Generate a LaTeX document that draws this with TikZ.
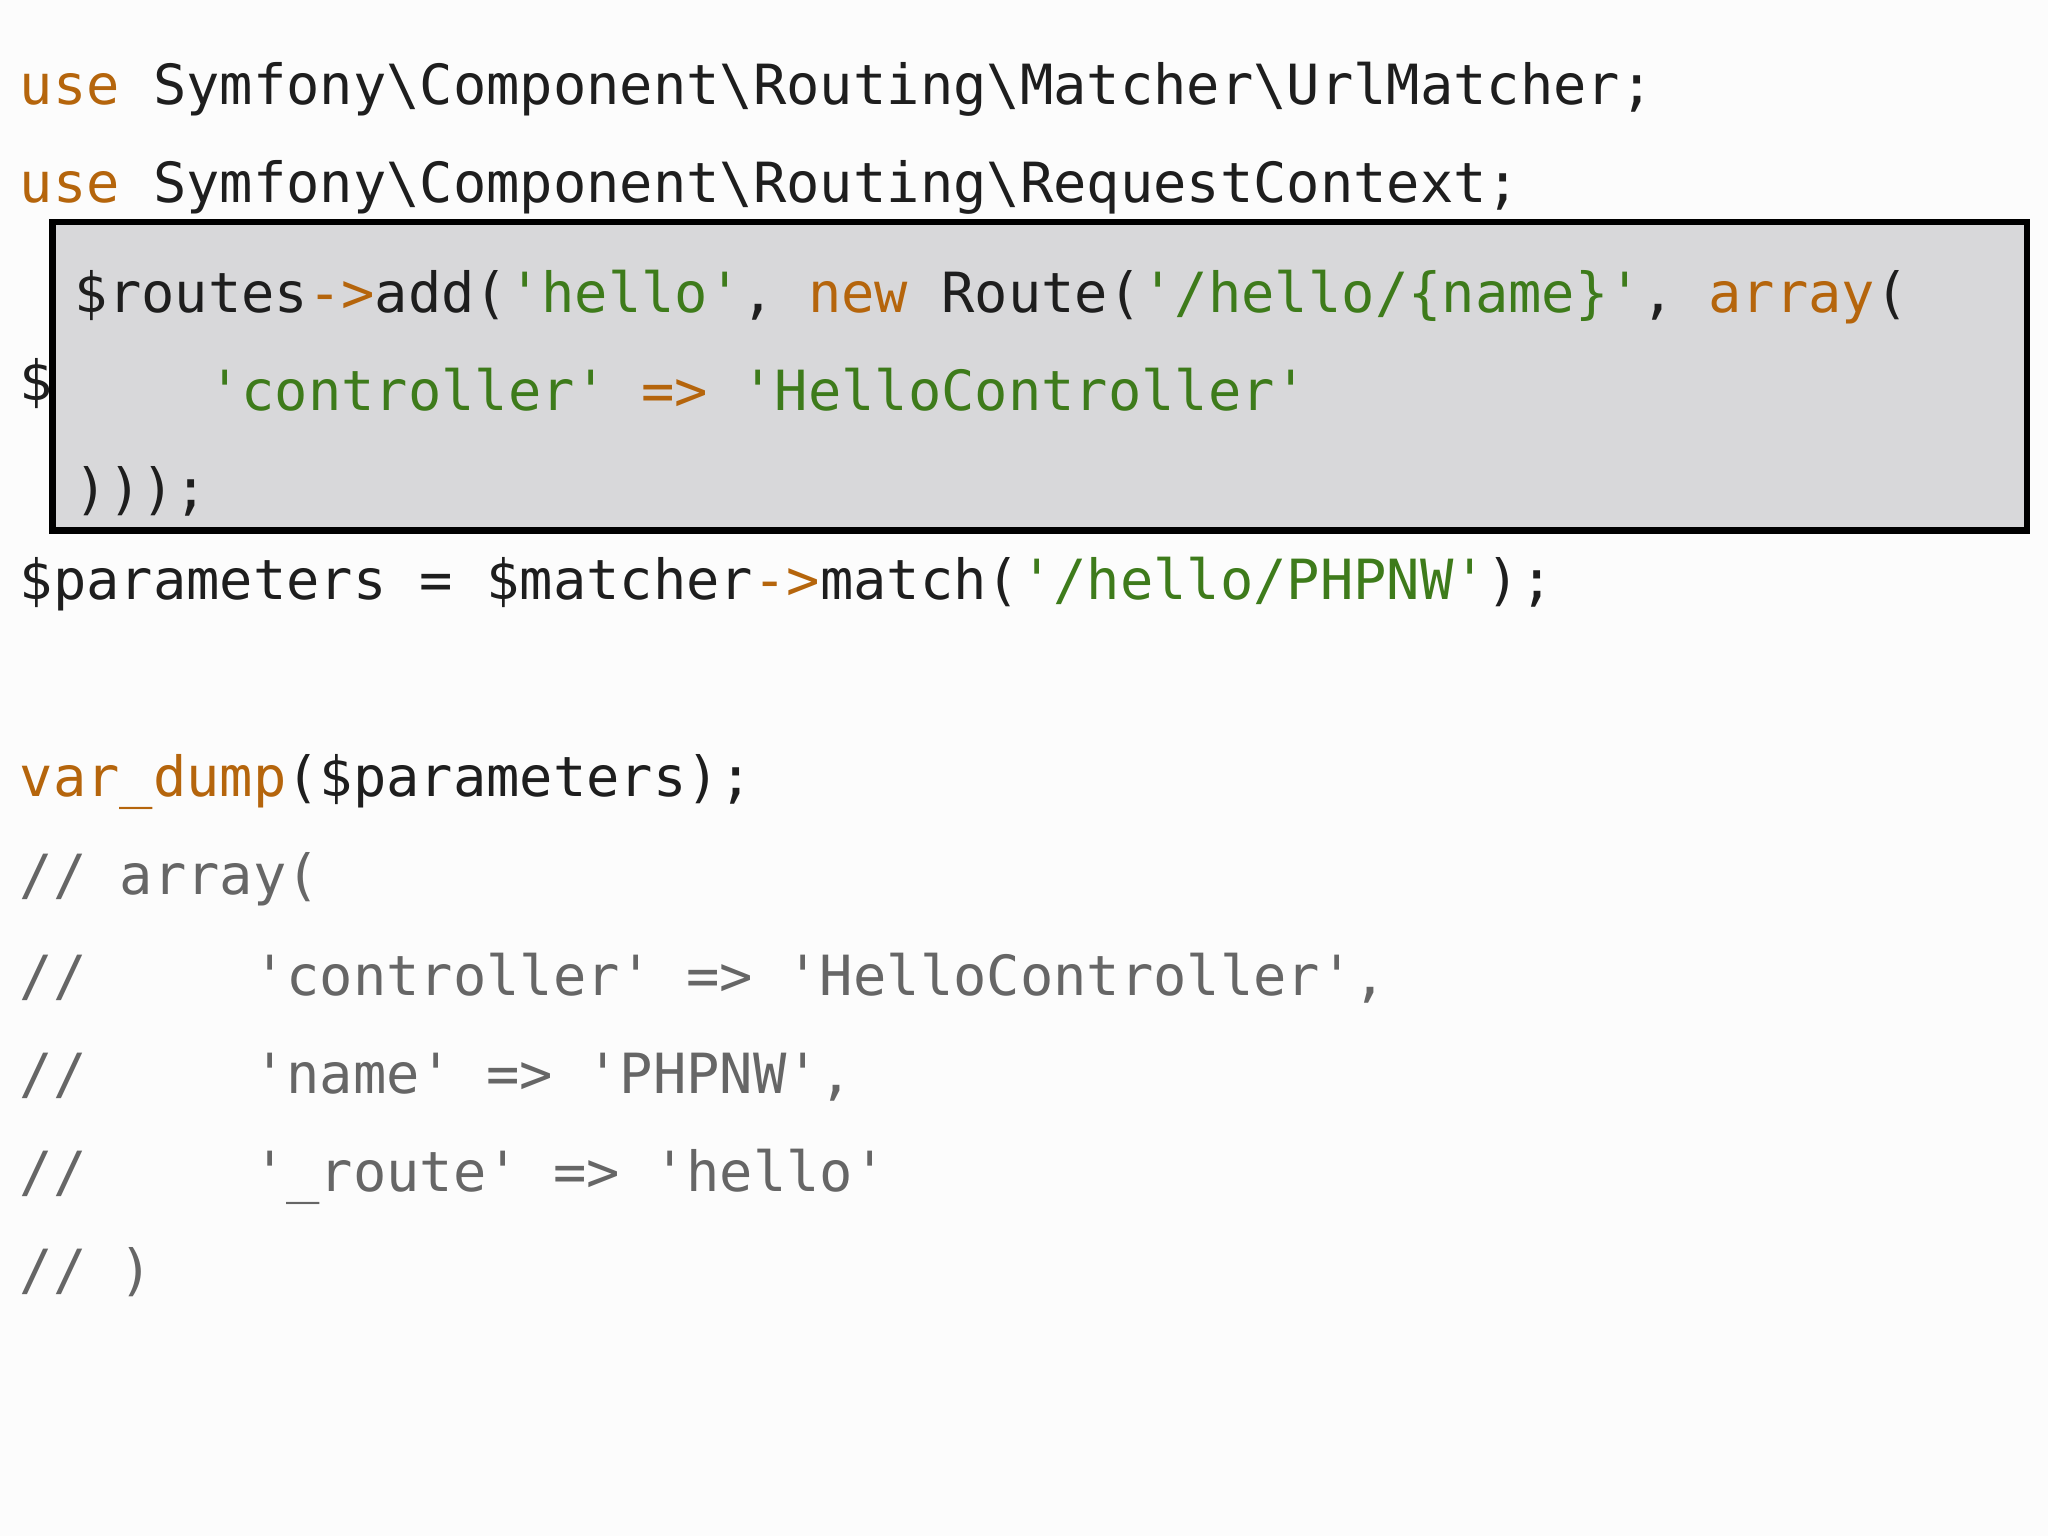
\documentclass[tikz,border=0pt]{standalone}
\usepackage{fontspec}
\setmonofont{DejaVu Sans Mono}
\definecolor{kw}{HTML}{B5650C}
\definecolor{st}{HTML}{3E7B1B}
\definecolor{cm}{HTML}{666666}
\definecolor{tx}{HTML}{1E1E1E}
\definecolor{bx}{HTML}{D8D8DA}
\begin{document}
\begin{tikzpicture}[x=1pt,y=-1pt,
  ln/.style={anchor=base west,inner sep=0pt,text=tx,font=\ttfamily\fontsize{42.4}{50}\selectfont}]
\fill[fill=white!98!gray] (0,0) rectangle (1568,1176);
\useasboundingbox (0,0) rectangle (1568,1176);
\newcommand\K[1]{\textcolor{kw}{#1}}
\newcommand\Sg[1]{\textcolor{st}{#1}}
\node[ln] (l1) at (15,80) {\K{use} Symfony\textbackslash Component\textbackslash Routing\textbackslash Matcher\textbackslash UrlMatcher;};
\node[ln] (l2) at (15,155) {\K{use} Symfony\textbackslash Component\textbackslash Routing\textbackslash RequestContext;};
\node[ln] (l4) at (15,307) {\$};
\node[ln] (l6) at (15,459) {\$parameters = \$matcher\K{->}match(\Sg{'/hello/PHPNW'});};
\node[ln] (l8) at (15,610) {\K{var\_dump}(\$parameters);};
\node[ln,text=cm] (c1) at (15,685) {// array(};
\node[ln,text=cm] (c2) at (15,762) {//~~~~~'controller' => 'HelloController',};
\node[ln,text=cm] (c3) at (15,837) {//~~~~~'name' => 'PHPNW',};
\node[ln,text=cm] (c4) at (15,912) {//~~~~~'\_route' => 'hello'};
\node[ln,text=cm] (c5) at (15,987) {// )};
\draw[line width=5pt,fill=bx] (40,170) rectangle (1552,406);
\node[ln] (b1) at (57,239) {\$routes\K{->}add(\Sg{'hello'}, \K{new} Route(\Sg{'/hello/\{name\}'}, \K{array}(};
\node[ln] (b2) at (57,314) {~~~~\Sg{'controller'} \K{=>} \Sg{'HelloController'}};
\node[ln] (b3) at (57,389) {)));};
\end{tikzpicture}
\end{document}
